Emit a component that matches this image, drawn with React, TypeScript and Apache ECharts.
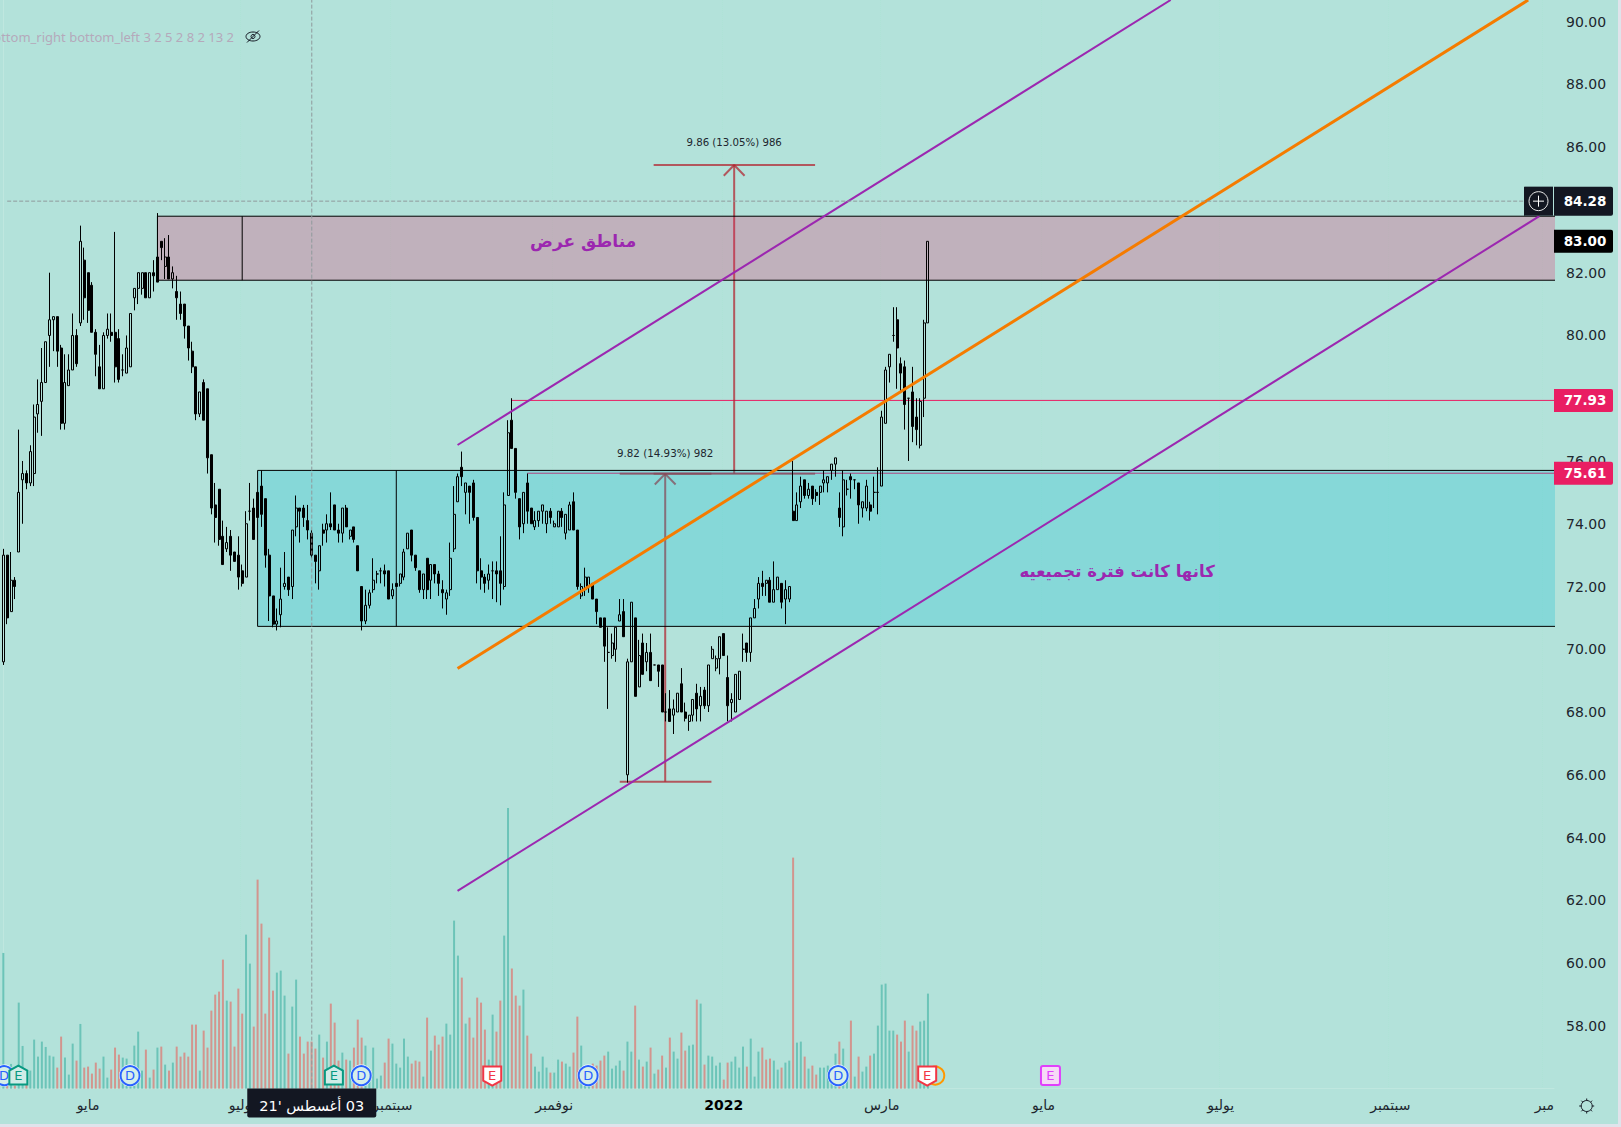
import React, { useEffect, useRef } from "react";
import * as echarts from "echarts";

// [open, close, low, high]
const ohlc: number[][] = [
[69.6,73.0,69.5,73.2],[73.0,71.0,70.8,73.0],[71.2,72.2,71.2,73.1],[72.2,72.0,71.6,72.3],[73.1,75.0,73.1,77.0],[75.4,75.6,74.0,76.0],[75.6,75.3,75.1,75.7],[75.3,76.3,75.2,76.5],[75.6,77.4,75.2,77.8],[77.5,77.8,76.9,78.6],
[77.9,78.5,76.8,79.6],[78.5,79.8,78.5,79.8],[80.0,80.5,79.0,82.0],[80.5,80.6,79.5,80.6],[80.6,79.5,79.0,80.6],[79.6,77.2,77.0,79.7],[77.2,78.5,77.0,79.4],[78.4,78.9,78.4,79.4],[78.9,80.0,78.9,80.7],[80.0,79.1,79.0,80.2],
[80.4,83.0,80.3,83.5],[82.4,81.2,80.5,82.8],[82.0,80.8,80.4,82.0],[81.6,80.1,80.1,81.7],[80.1,79.4,78.7,80.2],[79.0,78.3,78.3,79.7],[78.3,80.0,78.3,80.1],[80.0,80.2,79.9,80.7],[80.1,80.0,79.8,80.7],[80.1,79.0,78.5,83.3],
[79.9,78.6,78.5,80.2],[78.9,78.9,78.7,79.4],[78.8,79.6,78.8,80.0],[79.0,80.7,79.0,80.7],[81.2,81.5,80.8,81.5],[81.5,82.0,81.0,82.0],[81.5,82.0,81.3,82.0],[82.0,81.2,81.2,82.0],[81.2,82.0,81.2,82.0],[82.0,81.9,81.4,82.4],
[82.5,81.7,81.7,83.9],[83.0,82.8,82.4,83.0],[82.2,82.5,81.8,83.1],[82.5,81.8,81.8,83.2],[81.8,82.0,81.5,82.2],[81.4,81.2,80.5,81.9],[81.0,80.7,80.5,81.4],[81.0,80.3,79.9,81.0],[80.3,79.6,79.2,80.3],[79.5,79.0,78.8,79.8],
[79.0,77.5,77.3,79.0],[77.5,78.2,77.4,78.2],[78.5,77.3,77.3,78.6],[78.3,76.1,75.6,78.3],[76.2,74.5,74.3,76.2],[74.6,74.2,73.4,75.3],[75.1,73.5,73.3,75.1],[73.6,72.7,72.7,74.1],[73.2,73.4,73.1,73.9],[73.6,73.0,72.5,73.8],
[73.1,72.8,72.8,73.1],[73.0,72.3,71.9,73.6],[72.5,72.1,72.0,72.7],[72.3,74.0,72.3,74.4],[74.4,74.4,74.1,75.3],[74.5,73.5,73.5,74.8],[75.0,74.2,74.2,75.0],[75.2,74.3,73.9,75.7],[74.8,73.0,72.6,74.8],[73.0,71.7,70.9,73.2],
[71.7,70.8,70.7,71.7],[70.8,70.9,70.6,71.3],[71.1,71.6,70.7,72.6],[72.0,72.1,71.9,73.1],[72.3,71.9,71.7,72.3],[72.0,73.8,71.6,73.8],[73.9,74.5,73.6,74.9],[74.5,74.4,73.4,74.5],[74.5,74.2,73.9,74.6],[74.1,73.8,73.5,74.6],
[73.7,73.0,72.9,73.8],[73.0,72.8,72.1,73.0],[72.5,73.3,71.9,73.3],[73.8,73.7,73.3,74.0],[73.8,74.0,73.4,74.3],[74.0,73.9,73.8,75.0],[74.6,73.8,73.8,74.6],[73.8,73.7,73.4,74.0],[73.7,74.5,73.4,74.5],[74.5,73.9,73.9,74.6],
[73.6,73.8,73.5,73.8],[73.9,73.5,73.4,73.9],[73.3,72.5,72.5,73.3],[72.0,70.9,70.6,72.0],[70.9,71.4,70.8,71.9],[71.4,71.8,71.3,71.9],[71.9,72.2,71.8,72.9],[72.4,72.4,72.1,72.5],[72.5,72.5,72.1,72.6],[72.5,72.4,72.0,72.7],
[72.5,71.6,71.6,72.5],[71.7,71.9,71.6,72.1],[72.1,72.0,72.0,72.1],[72.1,72.4,72.0,72.4],[72.3,73.1,72.2,73.2],[73.2,73.7,73.2,73.7],[73.8,73.0,72.8,73.8],[73.0,72.6,72.5,73.0],[72.5,71.9,71.8,72.5],
[71.9,72.4,71.6,72.4],[72.9,71.9,71.6,72.9],[72.2,72.7,71.6,72.7],[72.7,72.4,72.1,72.7],[72.4,72.1,71.7,72.5],[71.9,71.8,71.3,72.2],[71.6,71.8,71.1,71.9],[71.9,72.9,71.7,73.4],[73.2,74.3,73.1,75.2],[74.7,75.5,74.7,75.6],
[75.8,75.5,75.2,76.3],[75.0,75.3,74.3,75.3],[75.2,75.0,74.0,75.2],[75.3,74.2,74.1,75.4],[74.2,72.5,72.1,74.2],[72.5,72.3,71.9,72.9],[72.3,72.1,71.8,72.4],[72.2,72.4,71.9,72.7],[72.5,72.5,71.6,72.8],[72.5,72.4,71.5,72.8],
[72.5,72.1,71.4,73.6],[72.0,74.6,71.9,75.0],[74.9,76.9,74.9,77.3],[77.3,76.4,76.4,78.0],[76.4,75.0,74.8,76.4],[74.8,73.9,73.5,74.8],[74.0,75.0,73.7,75.0],[75.3,74.4,74.0,75.6],[74.5,74.0,74.0,74.5],[73.9,74.1,73.8,74.4],
[74.1,74.4,73.9,74.4],[74.4,74.6,74.0,74.6],[74.0,74.4,73.7,74.4],[74.4,74.2,74.0,74.5],[73.9,74.0,73.9,74.1],[73.9,74.4,73.9,74.4],[74.4,74.2,73.9,74.5],[73.7,74.3,73.5,74.3],[73.8,74.6,73.8,74.7],[74.7,73.8,73.8,75.0],
[73.8,72.0,71.9,73.8],[71.7,72.0,71.6,72.1],[71.9,72.3,71.7,72.6],[72.0,72.3,71.8,72.3],[72.1,71.6,71.6,72.1],[71.6,71.2,70.8,71.6],[71.0,70.7,70.7,71.0],[71.0,70.1,69.6,71.0],[69.9,69.9,68.1,70.7],[69.8,70.2,69.7,70.5],
[70.0,70.7,69.6,70.7],[70.9,71.1,70.9,71.6],[71.2,70.4,70.4,71.6],[66.0,69.6,65.75,69.7],[69.6,71.5,69.6,71.5],[71.0,68.5,68.5,71.0],[68.8,69.8,68.8,70.3],[70.2,69.2,69.2,70.5],[69.6,69.9,69.3,70.2],[69.9,69.0,69.0,70.5],
[69.5,69.5,69.5,69.5],[69.5,69.3,68.8,69.5],[69.5,68.0,68.0,69.5],[68.0,68.0,67.7,68.6],[68.1,67.7,67.7,68.7],[67.9,68.1,67.3,68.4],[68.0,68.6,68.0,68.6],[68.9,68.0,68.0,69.4],[68.0,67.8,67.7,68.3],[67.7,67.9,67.4,67.9],
[67.9,68.4,67.7,68.4],[68.6,68.1,67.7,68.9],[68.2,68.5,67.7,68.8],[68.7,68.2,68.1,68.8],[68.2,69.5,68.0,69.5],[69.7,70.0,69.7,70.1],[69.4,69.7,69.3,69.8],[69.7,70.4,69.2,70.4],[70.5,69.8,69.8,70.5],[69.1,68.2,67.7,69.8],
[68.3,68.4,67.7,68.6],[68.0,69.2,68.0,69.2],[68.4,69.3,68.4,69.3],[70.0,70.0,69.6,70.5],[70.2,69.9,69.6,70.2],[69.9,71.0,69.6,71.0],[71.0,71.3,71.0,71.6],[71.6,72.1,71.3,72.3],[72.1,72.0,71.7,72.5],[72.1,72.2,71.7,72.2],
[72.2,71.5,71.5,72.3],[71.5,71.9,71.5,72.8],[71.9,72.3,71.9,72.3],[72.1,71.5,71.3,72.1],[71.6,71.9,70.8,72.2],[71.6,72.0,71.5,72.0],
[74.4,74.1,74.1,76.0],[74.1,74.6,74.1,75.0],[74.7,75.2,74.5,75.5],[75.4,74.9,74.8,75.4],[74.9,75.1,74.8,75.3],[75.2,74.8,74.6,75.2],[75.0,74.9,74.7,75.1],[75.0,75.2,74.6,75.2],[75.3,75.4,75.0,75.7],[75.3,75.5,75.0,75.5],
[75.7,75.9,75.4,75.9],[75.9,76.1,75.5,76.1],[74.5,74.2,73.9,75.0],[73.9,75.4,73.6,75.7],[75.1,75.1,74.9,75.4],[75.5,75.4,74.8,75.6],[75.4,75.4,75.1,75.4],[75.3,74.6,74.0,75.3],[74.5,74.7,74.2,74.7],[74.5,75.2,74.4,75.4],
[74.6,74.4,74.1,74.7],[75.0,75.0,74.5,75.5],[75.0,75.0,74.3,75.8],[75.2,77.4,75.2,77.6],[77.2,78.9,77.2,79.0],[79.0,79.4,78.5,79.4],[80.0,80.0,79.8,80.9],[80.5,79.6,78.3,80.9],[79.1,78.8,78.2,79.3],[79.0,77.8,77.0,79.2],
[78.0,78.0,76.0,78.0],[78.2,77.1,76.6,79.0],[77.4,77.0,76.5,78.0],[76.5,77.9,76.4,78.0],[78.0,80.4,77.4,80.5],[80.4,83.0,80.4,83.0],
];

// volume of each session; a negative sign marks a falling session
const volumes: number[] = [
407,-44,74,-9,258,128,-34,54,147,96,141,125,99,96,-63,-156,93,42,135,-84,
194,-63,-66,-45,-78,-60,96,33,-57,-123,-102,93,90,60,129,171,54,-117,33,-57,
123,-126,72,-54,78,-126,-96,-108,-96,-192,-192,54,-174,-123,-234,-282,-291,-387,264,-261,
-126,-300,-225,462,375,-186,-627,-495,-225,-453,-294,348,354,279,-105,246,327,-156,-105,-141,
-141,-120,162,-93,141,-255,-198,-84,108,-87,84,-123,-207,-153,129,50,123,30,39,-78,
-150,135,75,63,150,96,-75,-84,-81,36,-213,114,-159,-132,-156,195,162,504,399,-333,
195,-213,-153,-273,-258,-177,87,222,-171,-264,459,842,-360,-279,-249,297,-159,-105,66,51,
96,63,-48,48,87,-81,75,66,-108,-216,129,50,50,-75,-69,-84,-99,111,60,69,
84,-54,141,111,-249,87,-66,81,-123,45,-57,-99,63,-153,111,90,-168,-114,129,132,
-267,255,-72,99,96,69,78,-27,-78,81,96,63,126,-66,150,36,111,-123,-87,-90,
84,57,-63,78,84,-693,138,141,-96,60,-69,-42,63,63,69,54,105,-141,120,54,
-204,36,-96,51,66,-99,105,189,312,315,174,174,-162,-141,-204,111,-189,-174,201,204,285,
];

const priceMin = 56;
const priceMax = 90.69;
const priceStep = 2;
const barSlots = 403;
const volumeMax = 3266;
const hiddenPriceTicks = [56, 84];

const monthTicks: [number, string][] = [
  [22, "مايو"], [62, "يوليو"], [101, "سبتمبر"], [143, "نوفمبر"], [187, "2022"],
  [228, "مارس"], [270, "مايو"], [316, "يوليو"], [360, "سبتمبر"], [400, "مبر"],
];

// [from, inner divider, top price, bottom price]
const supplyZone = [40, 62, 83.8, 81.76];
const baseZone = [66, 102, 75.7, 70.73];

const upperChannel = [[117.9, 76.51], [303, 90.69]];
const midChannel = [[117.9, 69.39], [395.8, 90.69]];
const lowerChannel = [[117.9, 62.3], [398.7, 83.8]];

const priceLineA = [[132, 77.93], [402.5, 77.93]];
const priceLineB = [[136, 75.61], [402.5, 75.61]];

const crossX = 80.06;
const crossY = 84.28;
const crossEnd = 394.8;

const measureA = { x: 171.8, from: 160, to: 183.8, low: 65.78, high: 75.59 };
const measureB = { x: 189.7, from: 168.8, to: 210.7, low: 75.59, high: 85.43 };

const dividends = [0.2, 32.9, 92.9, 151.8, 216.7];
const earningsGreen = [3.9, 85.8];
const earningsRed = [126.9, 239.8];
const earningsFuture = [271.8];
const splitMark = [241.9];

const priceTags: [number, string, string][] = [
  [84.28, "84.28", "#131722"],
  [83.0, "83.00", "#000000"],
  [77.93, "77.93", "#e91e63"],
  [75.61, "75.61", "#e91e63"],
];

const BG = "#b3e2da";
const FONT = "'DejaVu Sans'";
const MEASURE = "rgba(178,40,51,0.75)";

function seg(points: number[][], color: string, width: number, z: number, type = "solid") {
  return {
    type: "line",
    xAxisIndex: 1,
    yAxisIndex: 0,
    data: points,
    showSymbol: false,
    symbol: "none",
    silent: true,
    clip: true,
    z,
    lineStyle: { color, width, type, cap: "butt" },
  };
}

function measure(m: typeof measureA) {
  const wingX = 2.7;
  const wingY = 0.34;
  return [
    seg([[m.from, m.low], [m.to, m.low]], MEASURE, 2, 2),
    seg([[m.from, m.high], [m.to, m.high]], MEASURE, 2, 2),
    seg([[m.x, m.low], [m.x, m.high]], MEASURE, 2, 2),
    seg([[m.x - wingX, m.high - wingY], [m.x, m.high], [m.x + wingX, m.high - wingY]], MEASURE, 2, 2),
  ];
}

function zoneSeries(zone: number[], fill: string) {
  return {
    type: "custom",
    xAxisIndex: 1,
    yAxisIndex: 0,
    silent: true,
    clip: true,
    z: 3,
    data: [zone],
    renderItem: (_p: any, api: any) => {
      const tl = api.coord([api.value(0), api.value(2)]);
      const br = api.coord([405, api.value(3)]);
      const mid = api.coord([api.value(1), api.value(2)]);
      return {
        type: "group",
        children: [
          { type: "rect", shape: { x: tl[0], y: tl[1], width: br[0] - tl[0], height: br[1] - tl[1] }, style: { fill, stroke: "#000", lineWidth: 1 } },
          { type: "line", shape: { x1: mid[0], y1: tl[1], x2: mid[0], y2: br[1] }, style: { stroke: "#000", lineWidth: 1 } },
        ],
      };
    },
  };
}

function badgeSeries(positions: number[], kind: string) {
  return {
    type: "custom",
    xAxisIndex: 1,
    yAxisIndex: 0,
    silent: true,
    clip: false,
    z: 6,
    data: positions.map((x) => [x, priceMin]),
    renderItem: (_p: any, api: any) => {
      const c = api.coord([api.value(0), api.value(1)]);
      const x = c[0];
      const y = c[1] - 13;
      const letter = (t: string, fill: string) => ({
        type: "text",
        style: { text: t, x, y, fill, font: `13px ${FONT}`, align: "center", verticalAlign: "middle", textAlign: "center", textVerticalAlign: "middle" },
      });
      if (kind === "D") {
        return {
          type: "group",
          children: [
            { type: "circle", shape: { cx: x, cy: y, r: 11 }, style: { fill: "#ffffff" } },
            { type: "circle", shape: { cx: x, cy: y, r: 9.5 }, style: { fill: "#d6eee9", stroke: "#2962ff", lineWidth: 2 } },
            letter("D", "#2962ff"),
          ],
        };
      }
      if (kind === "S") {
        return { type: "circle", shape: { cx: x, cy: y, r: 9 }, style: { fill: BG, stroke: "#ff9800", lineWidth: 2 } };
      }
      if (kind === "F") {
        return {
          type: "group",
          children: [
            { type: "rect", shape: { x: x - 9.5, y: y - 9.5, width: 19, height: 19, r: 2 }, style: { fill: "#f6d9f6", stroke: "#e040fb", lineWidth: 2 } },
            letter("E", "#e040fb"),
          ],
        };
      }
      const up = kind === "G";
      const pts = up
        ? [[x, y - 10], [x + 9, y - 5], [x + 9, y + 9], [x - 9, y + 9], [x - 9, y - 5]]
        : [[x - 9, y - 9], [x + 9, y - 9], [x + 9, y + 5], [x, y + 10], [x - 9, y + 5]];
      const col = up ? "#089981" : "#f23645";
      return {
        type: "group",
        children: [
          { type: "polygon", shape: { points: pts }, style: { fill: up ? "#cfece7" : "#ffffff", stroke: col, lineWidth: 2 } },
          letter("E", col),
        ],
      };
    },
  };
}

export default function App() {
  const ref = useRef<HTMLDivElement>(null);
  useEffect(() => {
    document.body.style.margin = "0";
    document.body.style.background = "#e0e3eb";
    const chart = echarts.init(ref.current!, undefined, { renderer: "svg" });
    const labelAt: Record<number, string> = {};
    monthTicks.forEach(([i, t]) => (labelAt[i] = t));
    const categories = Array.from({ length: barSlots }, (_, i) => labelAt[i] ?? "");
    const isTick = (i: number) => labelAt[i] !== undefined;

    chart.setOption({
      animation: false,
      backgroundColor: BG,
      grid: { left: 1.4, right: 64, top: 0, bottom: 35.4, containLabel: false },
      xAxis: [
        {
          type: "category",
          data: categories,
          boundaryGap: true,
          axisTick: { show: false },
          axisLine: { show: true, lineStyle: { color: "#bfe7df", width: 1 } },
          splitLine: { show: true, showMinLine: false, showMaxLine: false, interval: (i: number) => isTick(i), lineStyle: { color: "#aee3d6", type: "dotted", width: 1 } },
          axisLabel: {
            interval: (i: number) => isTick(i),
            margin: 9,
            hideOverlap: false,
            color: "#20262e",
            fontFamily: FONT,
            fontSize: 14,
            formatter: (v: string) => (v === "2022" ? "{b|2022}" : v),
            rich: { b: { fontWeight: "bold", fontSize: 14, fontFamily: FONT, color: "#000" } },
          },
        },
        { type: "value", min: -0.5, max: barSlots - 0.5, show: false, splitLine: { show: false } },
      ],
      yAxis: [
        {
          type: "value",
          position: "right",
          min: priceMin,
          max: priceMax,
          interval: priceStep,
          axisLine: { show: true, lineStyle: { color: "#bfe7df" } },
          axisTick: { show: false },
          splitLine: { show: false },
          axisLabel: {
            margin: 12,
            color: "#20262e",
            fontFamily: FONT,
            fontSize: 14,
            showMaxLabel: false,
            formatter: (v: number) => (hiddenPriceTicks.includes(v) ? "" : v.toFixed(2)),
          },
        },
        { type: "value", min: 0, max: volumeMax, show: false, splitLine: { show: false } },
      ],
      series: [
        {
          type: "bar",
          xAxisIndex: 0,
          yAxisIndex: 1,
          barWidth: 2,
          silent: true,
          z: 1,
          data: volumes.map((v) => ({ value: Math.abs(v), itemStyle: { color: v >= 0 ? "#6cc4b8" : "#d2958e" } })),
        },
        seg(priceLineA, "#e91e63", 1, 2),
        seg(priceLineB, "#e91e63", 1, 2),
        ...measure(measureA),
        ...measure(measureB),
        zoneSeries(supplyZone, "rgba(233,30,99,0.25)"),
        zoneSeries(baseZone, "rgba(0,188,212,0.25)"),
        {
          type: "candlestick",
          xAxisIndex: 0,
          yAxisIndex: 0,
          barWidth: 2.5,
          silent: true,
          z: 4,
          data: ohlc,
          itemStyle: { color: "transparent", color0: "#000", borderColor: "#000", borderColor0: "#000", borderColorDoji: "#000", borderWidth: 1 },
        },
        seg(upperChannel, "#9c27b0", 2, 5),
        seg(lowerChannel, "#9c27b0", 2, 5),
        seg(midChannel, "#f57c00", 3, 5),
        seg([[crossX, priceMin], [crossX, priceMax]], "#8f9a9c", 1, 5, "dashed"),
        seg([[1, crossY], [crossEnd, crossY]], "#8f9a9c", 1, 5, "dashed"),
        badgeSeries(splitMark, "S"),
        badgeSeries(dividends, "D"),
        badgeSeries(earningsGreen, "G"),
        badgeSeries(earningsRed, "R"),
        badgeSeries(earningsFuture, "F"),
      ],
    });

    const at = (i: number, p: number) => chart.convertToPixel({ xAxisIndex: 1, yAxisIndex: 0 }, [i, p]) as number[];
    const gridRight = at(barSlots - 0.5, priceMin)[0];
    const gridBottom = at(0, priceMin)[1];
    const text = (t: string, x: number, y: number, fill: string, font: string, align = "center") => ({
      type: "text",
      z: 20,
      silent: true,
      style: { text: t, x, y, fill, font, align, verticalAlign: "middle", textAlign: align, textVerticalAlign: "middle" },
    });
    const elements: any[] = [];
    priceTags.forEach(([p, t, color]) => {
      const y = at(0, p)[1];
      const h = color === "#131722" ? 29 : 23;
      elements.push({ type: "rect", z: 19, silent: true, shape: { x: gridRight, y: y - h / 2, width: 59, height: h, r: [0, 2, 2, 0] }, style: { fill: color } });
      elements.push(text(t, gridRight + 31, y, "#ffffff", `bold 13.5px ${FONT}`));
    });
    // crosshair "+" button
    const cy = at(0, crossY)[1];
    const bx = gridRight - 15.5;
    elements.push({ type: "rect", z: 19, silent: true, shape: { x: gridRight - 30, y: cy - 14.5, width: 29, height: 29 }, style: { fill: "#131722" } });
    elements.push({ type: "circle", z: 20, silent: true, shape: { cx: bx, cy, r: 9.5 }, style: { fill: "none", stroke: "#e8e8e8", lineWidth: 1 } });
    elements.push({ type: "line", z: 20, silent: true, shape: { x1: bx - 5.5, y1: cy, x2: bx + 5.5, y2: cy }, style: { stroke: "#fff", lineWidth: 1 } });
    elements.push({ type: "line", z: 20, silent: true, shape: { x1: bx, y1: cy - 5.5, x2: bx, y2: cy + 5.5 }, style: { stroke: "#fff", lineWidth: 1 } });
    // date tag on the time axis
    const dx = at(crossX, priceMin)[0];
    elements.push({ type: "rect", z: 19, silent: true, shape: { x: dx - 64.5, y: gridBottom, width: 129, height: 29, r: [0, 0, 2, 2] }, style: { fill: "#131722" } });
    elements.push(text("\u200F03 أغسطس '21", dx, gridBottom + 17, "#ffffff", `14.5px ${FONT}`));
    // drawn labels
    const zoneLabel = at(150.5, 83.0);
    elements.push(text("مناطق عرض", zoneLabel[0], zoneLabel[1], "#9c27b0", `bold 17px ${FONT}`));
    const baseLabel = at(289.1, 72.48);
    elements.push(text("كانها كانت فترة تجميعيه", baseLabel[0], baseLabel[1], "#9c27b0", `bold 16.5px ${FONT}`));
    const la = at(measureA.x, 76.26);
    elements.push(text("9.82 (14.93%) 982", la[0], la[1], "#20262e", `10.3px ${FONT}`));
    const lb = at(measureB.x, 85.43);
    elements.push(text("9.86 (13.05%) 986", lb[0], lb[1] - 23, "#20262e", `10.2px ${FONT}`));
    // study legend
    elements.push(text("bottom_right bottom_left 3 2 5 2 8 2 13 2", 234, 37, "#b5a9bb", `13px 'Noto Sans'`, "right"));
    const ex = 253;
    const ey = 36.5;
    elements.push({ type: "ellipse", z: 20, silent: true, shape: { cx: ex, cy: ey, rx: 7, ry: 4.5 }, style: { fill: "none", stroke: "#131722", lineWidth: 1 } });
    elements.push({ type: "circle", z: 20, silent: true, shape: { cx: ex, cy: ey, r: 2 }, style: { fill: "none", stroke: "#131722", lineWidth: 1 } });
    elements.push({ type: "line", z: 20, silent: true, shape: { x1: ex - 6, y1: ey + 6, x2: ex + 6, y2: ey - 6 }, style: { stroke: "#131722", lineWidth: 1 } });
    // settings gear
    const gx = 1586.7;
    const gy = 1106;
    elements.push({ type: "circle", z: 20, silent: true, shape: { cx: gx, cy: gy, r: 5.5 }, style: { fill: "none", stroke: "#131722", lineWidth: 1 } });
    [0, 1, 2, 3, 4, 5, 6, 7].forEach((k) => {
      const a = (k * Math.PI) / 4;
      elements.push({ type: "line", z: 20, silent: true, shape: { x1: gx + 5.5 * Math.cos(a), y1: gy + 5.5 * Math.sin(a), x2: gx + 7.5 * Math.cos(a), y2: gy + 7.5 * Math.sin(a) }, style: { stroke: "#131722", lineWidth: 1 } });
    });
    chart.setOption({ graphic: { elements } });
    return () => chart.dispose();
  }, []);
  return (
    <div style={{ width: 1621, height: 1127, background: "#e0e3eb", overflow: "hidden" }}>
      <div ref={ref} style={{ width: 1618, height: 1124 }} />
    </div>
  );
}
